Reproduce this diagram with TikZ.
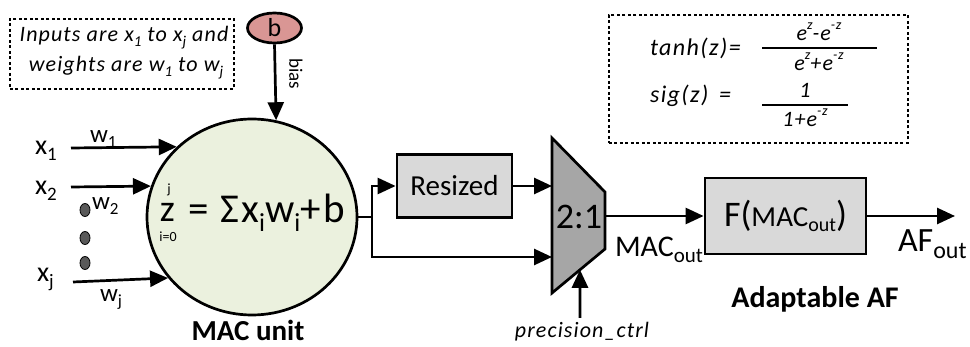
\documentclass[tikz,border=0pt]{standalone}
\usepackage{fontspec}
\setmainfont{Carlito}
\newfontfamily\lsa[LetterSpace=5]{Carlito}
\newfontfamily\lsb[LetterSpace=6]{Carlito}
\newfontfamily\lsc[LetterSpace=6]{Carlito}
\usetikzlibrary{arrows.meta,shapes.geometric,calc}
\newcommand{\fs}[1]{\fontsize{#1}{#1}\selectfont}
\newcommand{\sbx}[2]{\raisebox{-0.2em}{\fs{#1}#2}}
\newcommand{\spx}[2]{\raisebox{0.5em}{\fs{#1}#2}}
\definecolor{macgreen}{HTML}{EBF1DE}
\definecolor{biasred}{HTML}{D99694}
\definecolor{boxgray}{HTML}{D9D9D9}
\definecolor{muxgray}{HTML}{A6A6A6}
\definecolor{dotgray}{HTML}{595959}
\begin{document}
\begin{tikzpicture}[x=1pt,y=-1pt,line join=miter,
  wire/.style={line width=2.7pt},
  arr/.style={wire,-{Triangle[length=18pt,width=16pt]}},
  txt/.style={inner sep=0pt,outer sep=0pt},
  grbox/.style={draw,line width=2.8pt,fill=boxgray,inner sep=0pt},
  dbox/.style={draw,line width=1.6pt,dash pattern=on 3pt off 2.5pt},
  dotn/.style={ellipse,draw,line width=0.8pt,fill=dotgray,minimum width=10,minimum height=13,inner sep=0pt}]
\useasboundingbox (0,0) rectangle (970,347);

% note box
\node[dbox,minimum width=224,minimum height=70,anchor=north west] (note) at (9,18) {};
\node[txt,anchor=base] (n1) at (124,42) {\fs{22}\lsa\itshape Inputs are x\sbx{15}{1} to x\sbx{15}{j} and};
\node[txt,anchor=base] (n2) at (126,72) {\fs{22}\lsa\itshape weights are w\sbx{15}{1} to w\sbx{15}{j}};

% bias
\node[ellipse,draw,line width=2.7pt,fill=biasred,minimum width=54,minimum height=30,inner sep=0pt] (b) at (274.5,28) {\fs{26}b};
\node[txt,rotate=-90] (biaslbl) at (296,74) {\fs{19}bias};

% MAC
\node[ellipse,draw,line width=2.7pt,fill=macgreen,minimum width=210,minimum height=196,inner sep=0pt] (mac) at (252,217) {};
\draw[arr] (b.south) -- (mac.76.5);
\node[txt,anchor=base] (z) at (167.5,222) {\fs{38}\raisebox{0pt}[0.47em][0pt]{z}};
\node[txt,anchor=base] (zj) at (169,194) {\fs{14}\raisebox{0pt}[0.7em][0pt]{j}};
\node[txt,anchor=base] (zi) at (168,242) {\fs{14}i=0};
\node[txt,anchor=base west] (eq) at (188,223) {\fs{41}\lsc = Σx\sbx{26}{i}w\sbx{26}{i}+b};
\node[txt,anchor=base] (maclbl) at (248,341) {\fs{29}\bfseries MAC unit};

% inputs
\node[txt,anchor=base west] (x1) at (35,155) {\fs{28}x\sbx{19}{1}};
\coordinate (x1s) at (71,148);
\draw[arr] (x1s) -- (mac.137.2);
\node[txt,anchor=base west] (w1) at (90,143) {\fs{25}w\sbx{17}{1}};
\node[txt,anchor=base west] (x2) at (35,195) {\fs{28}x\sbx{19}{2}};
\coordinate (x2s) at (71,187);
\draw[arr] (x2s) -- (mac.163.3);
\node[txt,anchor=base west] (w2) at (92,210) {\fs{25}w\sbx{17}{2}};
\node[dotn] (d1) at (85,210) {};
\node[dotn] (d2) at (85,238) {};
\node[dotn] (d3) at (85,263) {};
\node[txt,anchor=base west] (xj) at (37,282) {\fs{28}x\sbx{19}{j}};
\coordinate (xjs) at (73,282);
\draw[arr] (xjs) -- (mac.216.6);
\node[txt,anchor=base west] (wj) at (100,302) {\fs{25}w\sbx{17}{j}};

% branch and resized
\coordinate (br) at (372,217);
\draw[wire] (mac.east) -- (br);
\node[grbox,minimum width=115,minimum height=63] (rs) at (454.5,186) {\fs{29}Resized};
\coordinate (in1) at (552,186);
\coordinate (in2) at (552,257);
\draw[arr] (br) |- (rs.west);
\draw[arr] (br) |- (in2);
\draw[arr] (rs.east) -- (in1);

% mux
\coordinate (m1) at (552,138);
\coordinate (m2) at (605,192);
\coordinate (m3) at (605,249);
\coordinate (m4) at (552,293);
\draw[line width=2.7pt,fill=muxgray] (m1) -- (m2) -- (m3) -- (m4) -- cycle;
\node[txt] (mux) at (579,217) {\fs{36}2:1};
\coordinate (mb) at ($(m4)!0.528!(m3)$);
\coordinate (pc) at (580,318);
\draw[arr] (pc) -- (mb);
\node[txt,anchor=base] (pclbl) at (582,338) {\fs{22}\lsa\itshape precision\_ctrl};

% AF
\coordinate (mout) at (605,216);
\node[grbox,minimum width=161,minimum height=76] (F) at (785.5,216) {\fs{36}F(\fs{29}MAC\sbx{20}{out}\fs{36})};
\draw[arr] (mout) -- (F.west);
\node[txt,anchor=base west] (macout) at (615,257) {\fs{30}MAC\sbx{21}{out}};
\coordinate (afend) at (955,216);
\draw[arr] (F.east) -- (afend);
\node[txt,anchor=base west] (afout) at (898,252) {\fs{34}AF\sbx{24}{out}};
\node[txt,anchor=base] (aflbl) at (815,308) {\fs{30}\bfseries Adaptable AF};

% formula box
\node[dbox,minimum width=299,minimum height=128,anchor=north west] (fbox) at (608,14) {};
\node[txt,anchor=base west] (tanh) at (650,56) {\fs{24}\lsb\itshape tanh(z)=};
\coordinate (f1a) at (762,48);
\coordinate (f1b) at (877,48);
\draw[line width=2.6pt] (f1a) -- (f1b);
\node[txt,anchor=base] (num1) at (819,41) {\fs{22}\lsa\itshape e\spx{14}{z}-e\spx{14}{-z}};
\node[txt,anchor=base] (den1) at (819,71) {\fs{22}\lsa\itshape e\spx{14}{z}+e\spx{14}{-z}};
\node[txt,anchor=base west] (sig) at (650,103) {\fs{24}\lsb\itshape sig(z)};
\node[txt,anchor=base west] (sigeq) at (719,103) {\fs{24}\itshape =};
\coordinate (f2a) at (762,105);
\coordinate (f2b) at (848,105);
\draw[line width=2.6pt] (f2a) -- (f2b);
\node[txt,anchor=base] (num2) at (805,98) {\fs{22}\itshape 1};
\node[txt,anchor=base] (den2) at (805,127) {\fs{22}\lsa\itshape 1+e\spx{14}{-z}};
\end{tikzpicture}
\end{document}
